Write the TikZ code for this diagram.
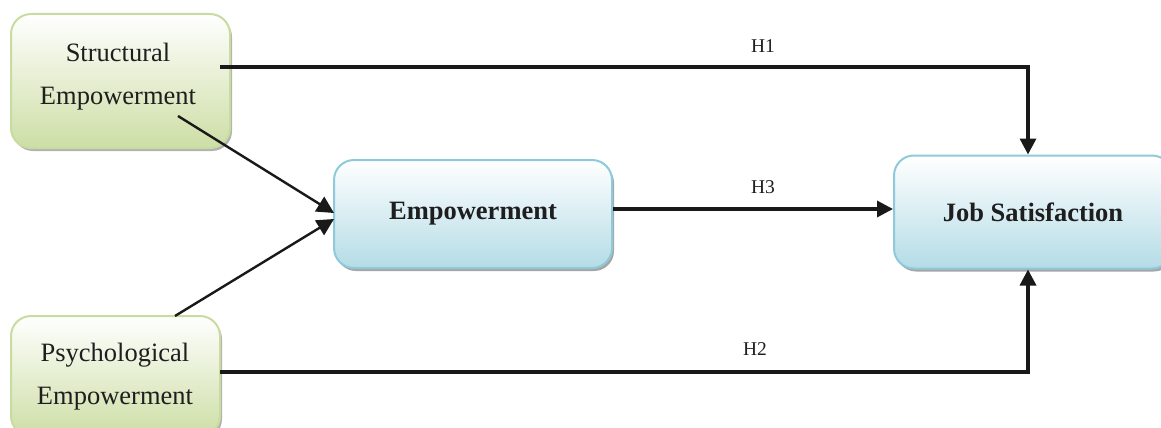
\documentclass[tikz,border=0pt]{standalone}
\usepackage{fontspec}
\setmainfont{Liberation Serif}
\usetikzlibrary{arrows.meta,shadows,calc}
\begin{document}
\begin{tikzpicture}[x=1pt,y=-1pt,
  greenbox/.style={draw={rgb,255:red,200;green,220;blue,160}, line width=2pt, rounded corners=20pt,
    top color=white, bottom color={rgb,255:red,205;green,222;blue,165},
    drop shadow={shadow xshift=2pt, shadow yshift=-3pt, fill=black!30, opacity=1},
    inner sep=0pt},
  greentext/.style={align=center, font=\fontsize{26.5}{43}\selectfont, inner sep=0pt, text={rgb,255:red,30;green,30;blue,30}},
  bluebox/.style={draw={rgb,255:red,142;green,202;blue,218}, line width=2pt, rounded corners=20pt,
    top color=white, bottom color={rgb,255:red,180;green,220;blue,230},
    drop shadow={shadow xshift=2pt, shadow yshift=-3pt, fill=black!35, opacity=1},
    align=center, font=\fontsize{26.5}{30}\bfseries\selectfont, inner sep=0pt, text={rgb,255:red,30;green,30;blue,30}},
  conn/.style={line width=3.4pt, color={rgb,255:red,25;green,25;blue,25}, -{Triangle[length=16pt,width=16pt]}},
  diag/.style={line width=2.4pt, color={rgb,255:red,25;green,25;blue,25}, -{Triangle[length=17pt,width=17pt]}},
  hlab/.style={font=\fontsize{19.5}{20}\selectfont, inner sep=0pt, text={rgb,255:red,30;green,30;blue,30}}
]
\useasboundingbox (0,0) rectangle (1161,428);
\clip (0,0) rectangle (1161,428);
\node[greenbox, minimum width=219pt, minimum height=134pt] (S) at (120.5,81) {};
\node[greentext] (St) at (118,77) {Structural\\Empowerment};
\node[greenbox, minimum width=209pt, minimum height=120pt] (P) at (115.5,376) {};
\node[greentext] (Pt) at (115,377) {Psychological\\Empowerment};
\node[bluebox, minimum width=278pt, minimum height=108pt] (E) at (473,214) {Empowerment};
\node[bluebox, minimum width=278pt, minimum height=113pt] (J) at (1033,212) {Job Satisfaction};

\coordinate (s1) at (220,67);
\coordinate (p1) at (220,372);
\coordinate (t1) at (1028,67);
\coordinate (t2) at (1028,372);
\coordinate (ds) at (178,116);
\coordinate (dp) at (175,316);
\coordinate (ew1) at (334,213);
\coordinate (ew2) at (334,219);

\draw[conn] (s1) -- (t1) -- (t1 |- J.north);
\draw[conn] (p1) -- (t2) -- (t2 |- J.south);
\draw[conn] (E.east |- 0,209) -- (J.west |- 0,209);
\draw[diag] (ds) -- (ew1);
\draw[diag] (dp) -- (ew2);

\node[hlab] (h1) at (763,46) {H1};
\node[hlab] (h3) at (763,187) {H3};
\node[hlab] (h2) at (755,349) {H2};
\end{tikzpicture}
\end{document}
